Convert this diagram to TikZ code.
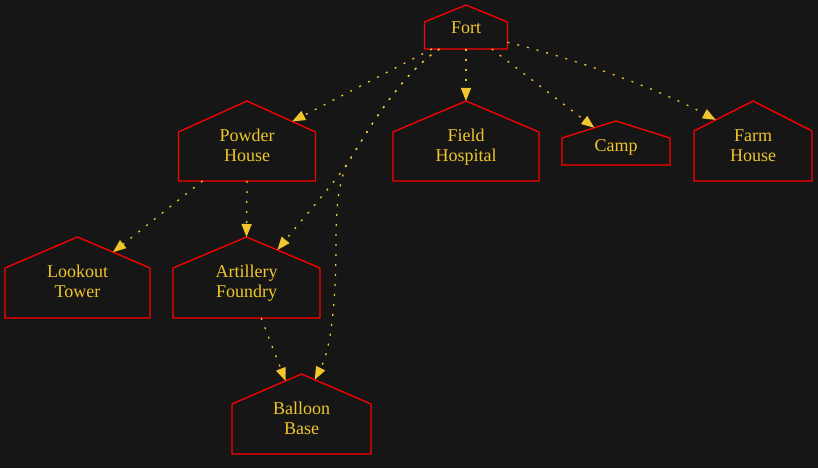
\documentclass[tikz,border=0pt]{standalone}
\usepackage{fontspec}
\setmainfont{Liberation Serif}
\usetikzlibrary{calc,arrows.meta}
\tikzset {>={Triangle[length=13pt,width=10pt]}}
\definecolor{bg}{RGB}{22,22,22}
\definecolor{gold}{RGB}{240,198,44}
\definecolor{wall}{RGB}{255,0,0}
\tikzset{
  house/.style={draw=wall,line width=1.3pt,line join=miter},
  lbl/.style={text=gold,font=\fontsize{18}{20}\selectfont,align=center,anchor=base,inner sep=0pt},
  link/.style={->,draw=gold,line width=1.3pt,dash pattern=on 2pt off 8pt}
}
% house outline: name, apex x, apex y, half width, shoulder y, bottom y
\newcommand{\hut}[6]{%
  \coordinate (#1-a) at (#2,#3);
  \coordinate (#1-l) at ({#2-#4},#5);
  \coordinate (#1-r) at ({#2+#4},#5);
  \coordinate (#1-bl) at ({#2-#4},#6);
  \coordinate (#1-br) at ({#2+#4},#6);
  \draw [house] (#1-a) -- (#1-r) -- (#1-br) -- (#1-bl) -- (#1-l) -- cycle;
}

\begin{document}
\begin{tikzpicture}[x=1pt,y=-1pt]

\useasboundingbox [fill=bg] (0,0) rectangle (818,468);

% Houses
\hut{fort}{466}{5}{41.5}{22}{49}
\hut{pw}{247}{101}{68.5}{132}{181}
\hut{fh}{466}{101}{73}{132}{181}
\hut{camp}{616}{121}{54}{138}{165}
\hut{farm}{753}{101}{59}{131}{181}
\hut{lt}{77.5}{237}{72.5}{268}{318}
\hut{af}{246.5}{237}{73.5}{268}{318}
\hut{bb}{301.5}{374}{69.5}{404}{454}

% Labels (base is the last line)
\node[lbl] (fort) at (466,34) {Fort};
\node[lbl] (pw) at (247,161) {Powder\\House};
\node[lbl] (fh) at (466,161) {Field\\Hospital};
\node[lbl] (camp) at (616,151) {Camp};
\node[lbl] (farm) at (753,161) {Farm\\House};
\node[lbl] (lt) at (77.5,297) {Lookout\\Tower};
\node[lbl] (af) at (246.5,297) {Artillery\\Foundry};
\node[lbl] (bb) at (301.5,434) {Balloon\\Base};

% Edges out of the fort
\draw [link] ($(fort-bl)!0.09!(fort-br)$) -- ($(pw-a)!0.66!(pw-r)$);
% artillery and balloon edges share their first stretch
\coordinate (fork) at (347,164);
\coordinate (bend) at (336,240);
\draw [link] ($(fort-bl)!0.18!(fort-br)$) .. controls (395,78) and (360,145) .. (fork)
  .. controls (330,188) and (300,222) .. ($(af-a)!0.42!(af-r)$);
\draw [link] ($(fort-bl)!0.18!(fort-br)$) .. controls (395,78) and (360,145) .. (fork)
  .. controls (339,182) and (336,205) .. (bend)
  .. controls (336,310) and (330,350) .. ($(bb-a)!0.19!(bb-r)$);
\draw [link] ($(fort-bl)!0.5!(fort-br)$) -- (fh-a);
\draw [link] ($(fort-bl)!0.81!(fort-br)$) -- ($(camp-a)!0.4!(camp-l)$);
\draw [link] ($(fort-r)!0.75!(fort-br)$) .. controls (580,60) and (660,90) .. ($(farm-a)!0.63!(farm-l)$);

% Edges further down
\draw [link] ($(pw-bl)!0.175!(pw-br)$) -- ($(lt-a)!0.49!(lt-r)$);
\draw [link] ($(pw-bl)!0.5!(pw-br)$) -- (af-a);
\draw [link] ($(af-bl)!0.6!(af-br)$) -- ($(bb-a)!0.23!(bb-l)$);
\end{tikzpicture}
\end{document}
